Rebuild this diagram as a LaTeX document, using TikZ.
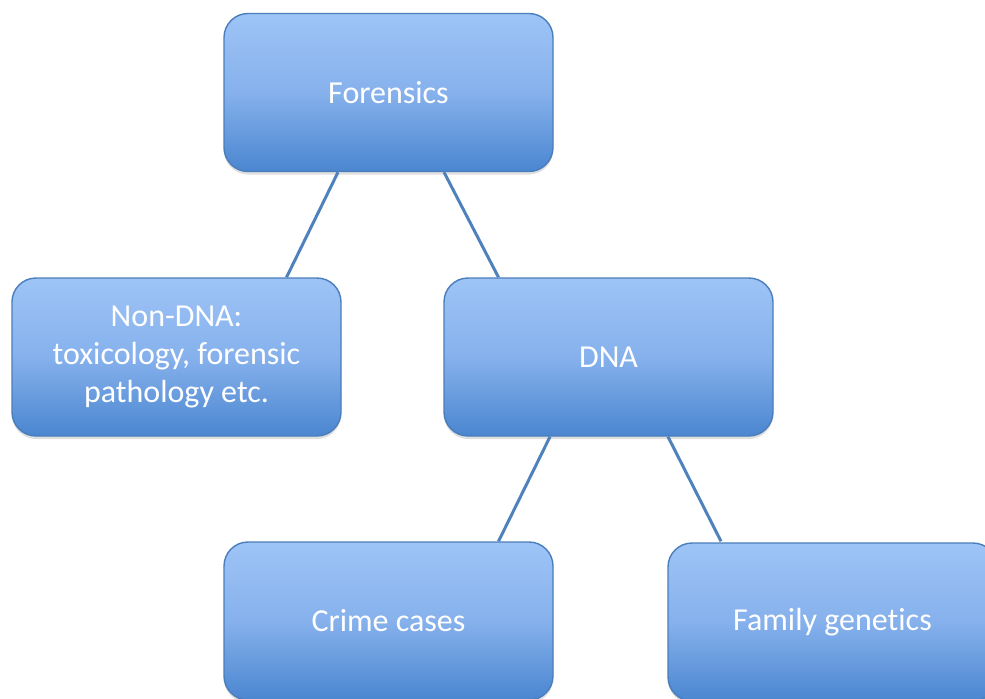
\documentclass[tikz,border=0pt]{standalone}
\usepackage{fontspec}
\setmainfont{Carlito}[Ligatures={NoCommon}]
\usetikzlibrary{shadows}
\definecolor{boxtop}{HTML}{9EC4F7}
\definecolor{boxmid}{HTML}{86B1EC}
\definecolor{boxbot}{HTML}{4A86D0}
\definecolor{boxline}{HTML}{4A7EBB}
\definecolor{conn}{HTML}{4F81BD}
\begin{document}
\begin{tikzpicture}[x=0.5pt,y=-0.5pt,
  box/.style={rectangle, rounded corners=12pt, draw=boxline, line width=0.7pt,
    top color=boxtop, bottom color=boxbot, middle color=boxmid, minimum width=164.5pt, minimum height=79pt,
    text=white, align=center, font=\fontsize{16}{19}\selectfont,
    drop shadow={opacity=0.25, shadow xshift=0pt, shadow yshift=-1.5pt}},
  conn/.style={draw=conn, line width=1.5pt}]
\useasboundingbox (0,0) rectangle (985,698);
\clip (0,0) rectangle (985,698);
\node[box] (F) at (388.5,92.5) {Forensics};
\node[box] (N) at (176.5,357) {Non-DNA:\\toxicology, forensic\\pathology etc.};
\node[box] (D) at (608.5,357) {DNA};
\node[box] (C) at (388.5,621) {Crime cases};
\node[box] (G) at (832.5,622) {Family genetics};
\draw[conn] ([xshift=-25.25pt]F.south) -- ([xshift=55pt]N.north);
\draw[conn] ([xshift=27.75pt]F.south) -- ([xshift=-55pt]D.north);
\draw[conn] ([xshift=-29.25pt]D.south) -- ([xshift=55pt]C.north);
\draw[conn] ([xshift=29.75pt]D.south) -- ([xshift=-55.75pt,yshift=0.5pt]G.north);
\end{tikzpicture}
\end{document}
